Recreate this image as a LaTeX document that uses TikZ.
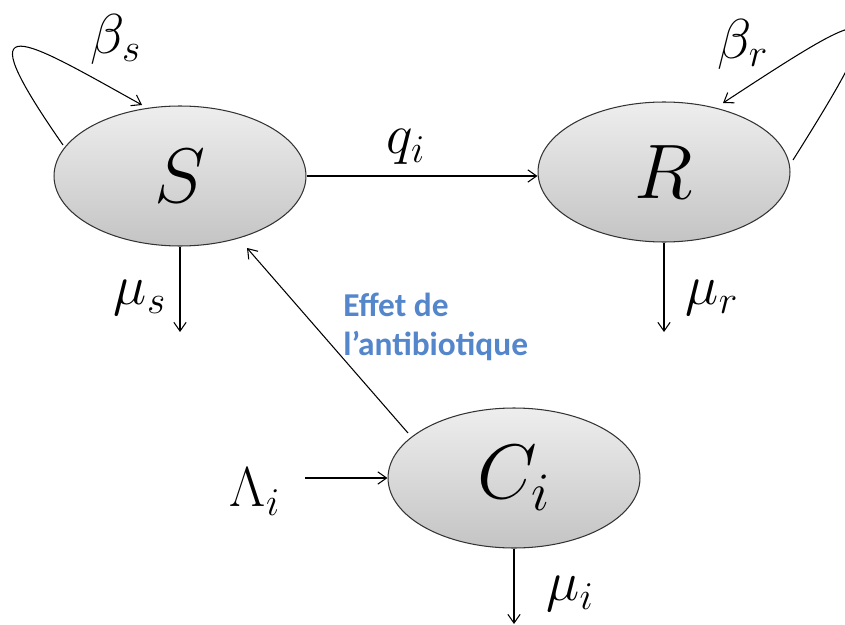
\RequirePackage{fix-cm}
\documentclass[tikz,border=0pt]{standalone}
\usepackage{fontspec}
\newfontfamily\calib{Carlito}
\usetikzlibrary{shapes.geometric,arrows.meta}
\definecolor{topgray}{RGB}{238,238,238}
\definecolor{botgray}{RGB}{196,196,196}
\definecolor{effblue}{RGB}{84,134,204}
\tikzset{
  comp/.style={ellipse,draw=black!80,line width=0.6pt,top color=topgray,bottom color=botgray,
    minimum width=5.04cm,minimum height=2.8cm,inner sep=0pt,font=\fontsize{44}{48}\selectfont},
  flow/.style={line width=0.6pt,-{Straight Barb[length=5pt,width=7pt,line width=0.6pt]}},
  lab/.style={font=\fontsize{32}{36}\selectfont,inner sep=0pt},
}
\begin{document}
\begin{tikzpicture}[x=0.02cm,y=-0.02cm]
\useasboundingbox (0,0) rectangle (845,625);
\clip (0,0) rectangle (845,625);
\node[comp] (S) at (180,176) {$S$};
\node[comp] (R) at (664,172) {$R$};
\node[comp] (C) at (514,478) {$C_i$};
% coordinates
\coordinate (sd) at (180,332);
\coordinate (rd) at (664,332);
\coordinate (cd) at (514,624);
\coordinate (lam) at (305,478);
\coordinate (cs) at (408,433);
\coordinate (sc) at (247,248);
\coordinate (bs0) at (63,145);
\coordinate (bs1) at (142,105);
\coordinate (br0) at (793,160);
\coordinate (br1) at (723,103);
% connectors
\draw[flow] (S.east) -- (S.east -| R.west);
\draw[flow] (S.south) -- (sd);
\draw[flow] (R.south) -- (rd);
\draw[flow] (C.south) -- (cd);
\draw[flow] (lam) -- (C.west);
\draw[flow] (cs) -- (sc);
\draw[flow] (bs0) .. controls (-38,0) and (25,40) .. (bs1);
\draw[flow] (br0) .. controls (900,-10) and (880,0) .. (br1);
% labels
\node[lab] (qi) at (406,147) {$q_i$};
\node[lab] (bs) at (116,39) {$\beta_s$};
\node[lab] (br) at (743,44) {$\beta_r$};
\node[lab] (ms) at (140,298) {$\mu_s$};
\node[lab] (mr) at (712,298) {$\mu_r$};
\node[lab] (li) at (255,492) {$\Lambda_i$};
\node[lab] (mi) at (570,594) {$\mu_i$};
\node[anchor=west,align=left,text=effblue,inner sep=0pt,font=\calib\bfseries\fontsize{19}{22}\selectfont] (eff) at (343,327) {Effet de\\l’antibiotique};
\end{tikzpicture}
\end{document}
